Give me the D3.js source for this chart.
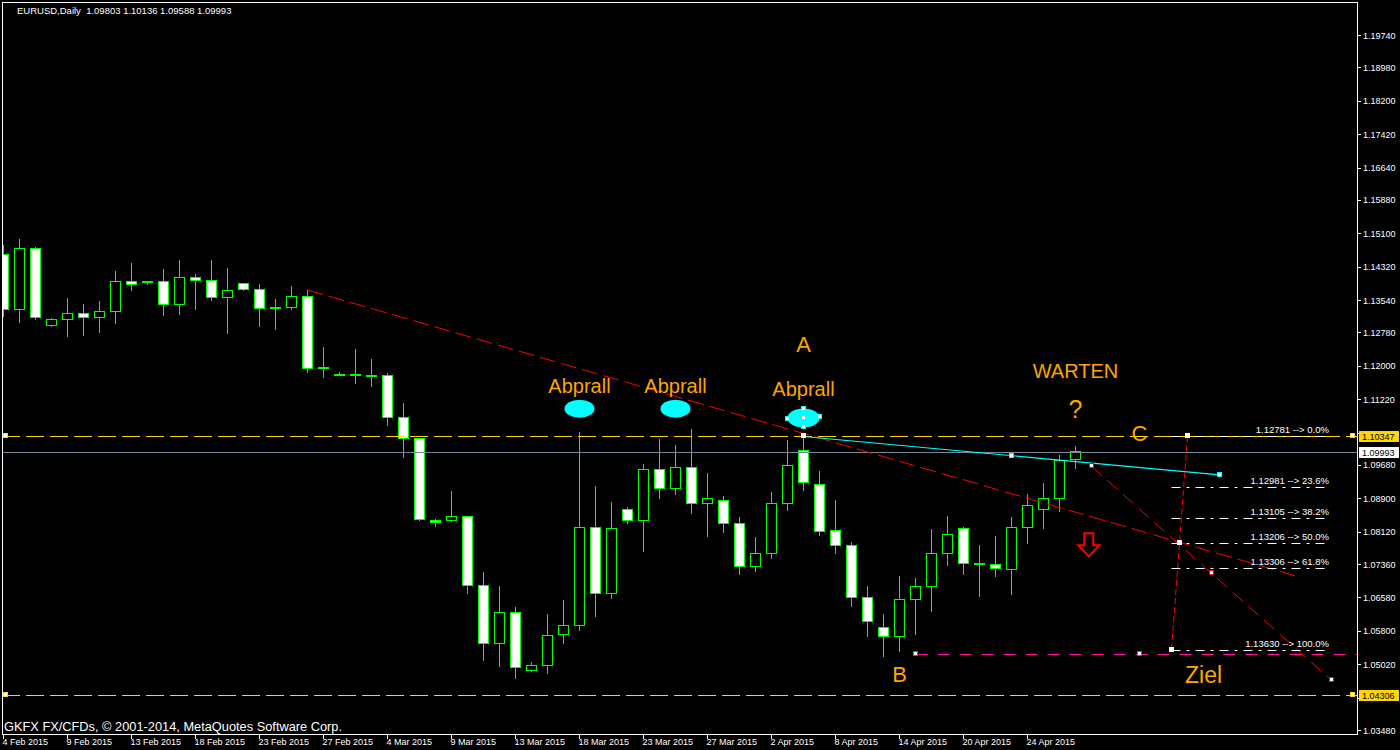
<!DOCTYPE html>
<html><head><meta charset="utf-8">
<script src="https://cdn.jsdelivr.net/npm/d3@7"></script>
<style>
html,body{margin:0;padding:0;background:#000;overflow:hidden;}
svg{display:block;}
text{font-family:"Liberation Sans",Arial,sans-serif;}
</style></head><body>
<svg id="chart" width="1400" height="750"></svg>
<script>
// ---------------- DATA ----------------
const dates = ["4 Feb","5 Feb","6 Feb","8 Feb","9 Feb","10 Feb","11 Feb","12 Feb","13 Feb","15 Feb","16 Feb","17 Feb","18 Feb","19 Feb","20 Feb","22 Feb","23 Feb","24 Feb","25 Feb","26 Feb","27 Feb","1 Mar","2 Mar","3 Mar","4 Mar","5 Mar","6 Mar","8 Mar","9 Mar","10 Mar","11 Mar","12 Mar","13 Mar","15 Mar","16 Mar","17 Mar","18 Mar","19 Mar","20 Mar","22 Mar","23 Mar","24 Mar","25 Mar","26 Mar","27 Mar","30 Mar","31 Mar","1 Apr","2 Apr","3 Apr","6 Apr","7 Apr","8 Apr","9 Apr","10 Apr","13 Apr","14 Apr","15 Apr","16 Apr","17 Apr","20 Apr","21 Apr","22 Apr","23 Apr","24 Apr","27 Apr","28 Apr","29 Apr"];
const opens = [1.14616,1.13323,1.14750,1.12948,1.13089,1.13229,1.13135,1.13276,1.13978,1.13975,1.13978,1.13430,1.14071,1.14001,1.13603,1.13931,1.13790,1.13360,1.13369,1.13627,1.11956,1.11802,1.11793,1.11778,1.11778,1.10796,1.10304,1.08386,1.08386,1.08480,1.06865,1.05508,1.06233,1.04877,1.04994,1.05719,1.05920,1.08222,1.06678,1.08643,1.08386,1.09579,1.09135,1.09626,1.08784,1.08854,1.08316,1.07300,1.07614,1.08784,1.10024,1.09228,1.08152,1.07801,1.06585,1.05883,1.05672,1.06538,1.06842,1.07614,1.08199,1.07364,1.07347,1.07240,1.08222,1.08643,1.08891,1.09803];
const highs = [1.14827,1.14967,1.14770,1.13119,1.13587,1.13447,1.13517,1.14219,1.14406,1.13985,1.14265,1.14476,1.14148,1.14476,1.14289,1.13935,1.13914,1.13564,1.13868,1.13774,1.12441,1.11849,1.12394,1.12160,1.11837,1.11137,1.10310,1.08417,1.09072,1.08485,1.07176,1.06849,1.06358,1.05071,1.06194,1.06521,1.10452,1.09188,1.08814,1.08697,1.09703,1.10281,1.10148,1.10522,1.09493,1.08955,1.08463,1.07995,1.09048,1.10265,1.10417,1.09539,1.08861,1.07878,1.06849,1.06194,1.07083,1.07036,1.08182,1.08487,1.08222,1.07808,1.08019,1.08463,1.09001,1.09259,1.09914,1.10136];
const lows = [1.13135,1.13009,1.13079,1.12915,1.12682,1.12698,1.12775,1.12979,1.13758,1.13898,1.13173,1.13196,1.13313,1.13524,1.12752,1.13758,1.12915,1.12845,1.13313,1.11821,1.11722,1.11762,1.11582,1.11512,1.10599,1.09851,1.08370,1.08222,1.08353,1.06669,1.05101,1.04947,1.04666,1.04844,1.04797,1.05499,1.05803,1.06131,1.06552,1.08306,1.07651,1.08891,1.08985,1.08540,1.08002,1.08096,1.07106,1.07183,1.07488,1.08611,1.09079,1.08019,1.07605,1.06365,1.05663,1.05195,1.05312,1.05710,1.06248,1.07324,1.07106,1.06598,1.07066,1.06645,1.07838,1.08189,1.08587,1.09588];
const closes = [1.13323,1.14750,1.13135,1.13089,1.13229,1.13135,1.13276,1.13978,1.13907,1.13980,1.13430,1.14071,1.13992,1.13603,1.13767,1.13790,1.13337,1.13362,1.13627,1.11942,1.11958,1.11804,1.11795,1.11780,1.10798,1.10304,1.08409,1.08339,1.08480,1.06865,1.05508,1.06233,1.04947,1.04994,1.05695,1.05929,1.08222,1.06678,1.08199,1.08386,1.09579,1.09135,1.09626,1.08784,1.08901,1.08316,1.07300,1.07614,1.08784,1.09673,1.09266,1.08129,1.07801,1.06585,1.06023,1.05672,1.06538,1.06842,1.07614,1.08058,1.07380,1.07366,1.07247,1.08222,1.08737,1.08901,1.09790,1.09993];

const priceTicks = [1.19740,1.18980,1.18200,1.17420,1.16640,1.15880,1.15100,1.14320,1.13540,1.12780,1.12000,1.11220,1.10440,1.09680,1.08900,1.08120,1.07360,1.06580,1.05800,1.05020,1.04240,1.03480];
const dateTickBars = [0,4,8,12,16,20,24,28,32,36,40,44,48,52,56,60,64];
const dateTickLabels = ["4 Feb 2015","9 Feb 2015","13 Feb 2015","18 Feb 2015","23 Feb 2015","27 Feb 2015","4 Mar 2015","9 Mar 2015","13 Mar 2015","18 Mar 2015","23 Mar 2015","27 Mar 2015","2 Apr 2015","8 Apr 2015","14 Apr 2015","20 Apr 2015","24 Apr 2015"];

const headerText = "EURUSD,Daily  1.09803 1.10136 1.09588 1.09993";
const copyrightText = "GKFX FX/CFDs, \u00a9 2001-2014, MetaQuotes Software Corp.";

const hLevels = [1.10347, 1.04306];
const bidPrice = 1.09993;

const labelTexts = ["Abprall","Abprall","Abprall","A","WARTEN","?","C","B","Ziel"];
const labelBars = [36, 42, 50, 50, 67, 67, 71, 56, 75];
const labelPrices = [1.11376, 1.11376, 1.11294, 1.12331, 1.11708, 1.10772, 1.10241, 1.04603, 1.04587];

const ellipseBars = [36, 42, 50];
const ellipsePrices = [1.10997, 1.10997, 1.10779];

const trend1Bars = [19, 81];
const trend1Prices = [1.13774, 1.07060];
const trend2Bars = [68, 83];
const trend2Prices = [1.09650, 1.04642];
const cyanBars = [50, 76];
const cyanPrices = [1.10347, 1.09450];
const pinkBars = [57, 71];
const pinkPrice = 1.05251;

const fibBars = [74, 73];
const fibPrices = [1.10347, 1.05351];
const fibLevels = [0, 0.236, 0.382, 0.5, 0.618, 1];
const fibTexts = ["1.12781 --> 0.0%","1.12981 --> 23.6%","1.13105 --> 38.2%","1.13206 --> 50.0%","1.13306 --> 61.8%","1.13630 --> 100.0%"];
const fibEndBar = 82.9;

const arrowBar = 67.83;
const arrowPrice = 1.08081;

// ---------------- DRAW ----------------
const W = 1400, H = 750;
const P = {left: 2, top: 2, right: 1357, bottom: 734};
const x = d3.scaleLinear().domain([0, 1]).range([3.5, 19.5]);
const y = d3.scaleLinear().domain([1.03480, 1.19740]).range([730, 35]);

const GREEN = "#00ff00", GOLD = "#ffd700", ORANGE = "#ffa500", CYAN = "#00ffff", RED = "#ff0000", PINK = "#ff1493", BIDGRAY = "#778899";

const svg = d3.select("#chart");
svg.append("rect").attr("width", W).attr("height", H).attr("fill", "#000");
svg.append("defs").append("clipPath").attr("id", "clip")
  .append("rect").attr("x", P.left + 1).attr("y", P.top + 1)
  .attr("width", P.right - P.left - 1).attr("height", P.bottom - P.top - 1);

const g = svg.append("g").attr("clip-path", "url(#clip)");

// candles
const bars = d3.range(opens.length).map(i => ({i, o: opens[i], h: highs[i], l: lows[i], c: closes[i], d: dates[i]}));
const cg = g.append("g").attr("shape-rendering", "crispEdges");
cg.selectAll("line.wick").data(bars).join("line").attr("class", "wick")
  .attr("x1", d => x(d.i)).attr("x2", d => x(d.i))
  .attr("y1", d => y(d.h)).attr("y2", d => y(d.l))
  .attr("stroke", GREEN).attr("stroke-width", 1);
cg.selectAll("rect.body").data(bars).join("rect").attr("class", "body")
  .attr("x", d => x(d.i) - 5).attr("width", 10)
  .attr("y", d => y(Math.max(d.o, d.c)))
  .attr("height", d => Math.max(1, Math.abs(y(d.o) - y(d.c))))
  .attr("fill", d => d.c >= d.o ? "#000" : "#fff")
  .attr("stroke", GREEN).attr("stroke-width", 1);

// horizontal yellow lines
g.selectAll("line.hl").data(hLevels).join("line").attr("class", "hl")
  .attr("x1", P.left).attr("x2", P.right)
  .attr("y1", d => Math.round(y(d)) + 0.5).attr("y2", d => Math.round(y(d)) + 0.5)
  .attr("stroke", GOLD).attr("stroke-width", 1).attr("stroke-dasharray", "18,6");

// bid line
g.append("line").attr("x1", P.left).attr("x2", P.right)
  .attr("y1", Math.round(y(bidPrice)) + 0.5).attr("y2", Math.round(y(bidPrice)) + 0.5)
  .attr("stroke", BIDGRAY).attr("stroke-width", 1);

// pink ray
g.append("line").attr("x1", x(pinkBars[0])).attr("x2", P.right)
  .attr("y1", Math.round(y(pinkPrice)) + 0.5).attr("y2", Math.round(y(pinkPrice)) + 0.5)
  .attr("stroke", PINK).attr("stroke-width", 1).attr("stroke-dasharray", "12,10");

// red trendlines
g.append("line").attr("x1", x(trend1Bars[0])).attr("y1", y(trend1Prices[0]))
  .attr("x2", x(trend1Bars[1])).attr("y2", y(trend1Prices[1]))
  .attr("stroke", RED).attr("stroke-width", 1).attr("stroke-dasharray", "16,6");
g.append("line").attr("x1", x(trend2Bars[0])).attr("y1", y(trend2Prices[0]))
  .attr("x2", x(trend2Bars[1])).attr("y2", y(trend2Prices[1]))
  .attr("stroke", RED).attr("stroke-width", 1).attr("stroke-dasharray", "14,7");

// cyan line
g.append("line").attr("x1", x(cyanBars[0])).attr("y1", y(cyanPrices[0]))
  .attr("x2", x(cyanBars[1])).attr("y2", y(cyanPrices[1]))
  .attr("stroke", CYAN).attr("stroke-width", 1.2);

// fibonacci
const fibP = l => fibPrices[0] + (fibPrices[1] - fibPrices[0]) * l;
const fibLeft = Math.min(x(fibBars[0]), x(fibBars[1]));
g.selectAll("line.fib").data(fibLevels).join("line").attr("class", "fib")
  .attr("x1", fibLeft).attr("x2", x(fibEndBar))
  .attr("y1", d => Math.round(y(fibP(d))) + 0.5).attr("y2", d => Math.round(y(fibP(d))) + 0.5)
  .attr("stroke", "#fff").attr("stroke-width", 1).attr("stroke-dasharray", "9,6,3,6");
g.selectAll("text.fib").data(fibLevels).join("text").attr("class", "fib")
  .attr("x", x(fibEndBar) - 1).attr("y", d => y(fibP(d)) - 3)
  .attr("text-anchor", "end").attr("fill", "#fff").attr("font-size", "9.5px")
  .text((d, i) => fibTexts[i]);
g.append("line").attr("x1", x(fibBars[0])).attr("y1", y(fibPrices[0]))
  .attr("x2", x(fibBars[1])).attr("y2", y(fibPrices[1]))
  .attr("stroke", RED).attr("stroke-width", 1).attr("stroke-dasharray", "6,3");

// ellipses
g.selectAll("ellipse.e").data(ellipseBars).join("ellipse").attr("class", "e")
  .attr("cx", d => x(d)).attr("cy", (d, i) => y(ellipsePrices[i]))
  .attr("rx", (d, i) => i === 2 ? 16 : 15).attr("ry", (d, i) => i === 2 ? 9.5 : 9)
  .attr("fill", CYAN);

// labels
const fontSizes = {"Abprall": 20, "A": 22, "WARTEN": 20, "?": 25, "C": 22, "B": 22, "Ziel": 23};
g.selectAll("text.lab").data(labelTexts).join("text").attr("class", "lab")
  .attr("x", (d, i) => x(labelBars[i])).attr("y", (d, i) => y(labelPrices[i]))
  .attr("text-anchor", "middle").attr("fill", ORANGE)
  .attr("font-size", d => fontSizes[d] + "px")
  .text(d => d);

// arrow
const ax = x(arrowBar), ay = y(arrowPrice);
g.append("path")
  .attr("d", `M${ax-4.5},${ay} L${ax+4.5},${ay} L${ax+4.5},${ay+12} L${ax+10.5},${ay+12} L${ax},${ay+23} L${ax-10.5},${ay+12} L${ax-4.5},${ay+12} Z`)
  .attr("fill", "none").attr("stroke", RED).attr("stroke-width", 2);

// markers
function marker(cx, cy, col) {
  g.append("rect").attr("x", Math.round(cx) - 2.5).attr("y", Math.round(cy) - 2.5)
    .attr("width", 4).attr("height", 4).attr("fill", "#fff").attr("stroke", col).attr("stroke-width", 1)
    .attr("shape-rendering", "crispEdges");
}
hLevels.forEach(p => { marker(P.left + 4, y(p), GOLD); marker(P.right - 4, y(p), GOLD); });
marker(x((cyanBars[0] + cyanBars[1]) / 2), y((cyanPrices[0] + cyanPrices[1]) / 2), CYAN);
marker(x(cyanBars[1]), y(cyanPrices[1]), CYAN);
marker(x(cyanBars[0]), y(cyanPrices[0]), "#fff");
marker(x(trend2Bars[0]), y(trend2Prices[0]), RED);
marker(x((trend2Bars[0] + trend2Bars[1]) / 2), y((trend2Prices[0] + trend2Prices[1]) / 2), RED);
marker(x(trend2Bars[1]), y(trend2Prices[1]), RED);
marker(x(pinkBars[0]), y(pinkPrice), PINK);
marker(x(pinkBars[1]), y(pinkPrice), PINK);
marker(x(fibBars[0]), y(fibPrices[0]), "#fff");
marker(x(fibBars[1]), y(fibPrices[1]), "#fff");
marker(x((fibBars[0] + fibBars[1]) / 2), y((fibPrices[0] + fibPrices[1]) / 2), "#fff");
{
  const ex = x(ellipseBars[2]), ey = y(ellipsePrices[2]);
  [[0,0],[0,-9],[0,9],[-16,1],[16,-1]].forEach(o => marker(ex + o[0], ey + o[1], CYAN));
}

// header & copyright
svg.append("text").attr("x", 17).attr("y", 14).attr("fill", "#fff").attr("font-size", "9.5px")
  .style("white-space", "pre").text(headerText);
svg.append("text").attr("x", 4).attr("y", 731).attr("fill", "#fff").attr("font-size", "12.8px")
  .text(copyrightText);

// frame
svg.append("rect").attr("x", P.left + 0.5).attr("y", P.top + 0.5)
  .attr("width", P.right - P.left).attr("height", P.bottom - P.top)
  .attr("fill", "none").attr("stroke", "#fff").attr("stroke-width", 1).attr("shape-rendering", "crispEdges");

// price axis (labels hidden under a price box are skipped, as in the terminal)
const boxes = [{p: hLevels[0], bg: GOLD}, {p: bidPrice, bg: "#fff"}, {p: hLevels[1], bg: GOLD}];
const visibleTicks = priceTicks.filter(t => boxes.every(b => Math.abs(y(t) - y(b.p)) > 8));
const pa = svg.append("g");
pa.selectAll("line").data(priceTicks).join("line")
  .attr("x1", P.right + 1).attr("x2", P.right + 4)
  .attr("y1", d => Math.round(y(d)) + 0.5).attr("y2", d => Math.round(y(d)) + 0.5)
  .attr("stroke", "#fff").attr("shape-rendering", "crispEdges");
pa.selectAll("text").data(visibleTicks).join("text")
  .attr("x", 1363).attr("y", d => y(d) + 3.5)
  .attr("fill", "#fff").attr("font-size", "9px")
  .text(d => d.toFixed(5));

// price boxes
boxes.forEach(b => {
  const cy = Math.round(y(b.p));
  svg.append("rect").attr("x", 1359).attr("y", cy - 5).attr("width", 40).attr("height", 11)
    .attr("fill", b.bg).attr("shape-rendering", "crispEdges");
  svg.append("text").attr("x", 1362).attr("y", cy + 4).attr("fill", "#000").attr("font-size", "9px")
    .text(b.p.toFixed(5));
});

// date axis
const da = svg.append("g");
da.selectAll("line").data(dateTickBars).join("line")
  .attr("x1", d => x(d)).attr("x2", d => x(d))
  .attr("y1", P.bottom + 1).attr("y2", P.bottom + 5)
  .attr("stroke", "#fff").attr("shape-rendering", "crispEdges");
da.selectAll("text").data(dateTickBars).join("text")
  .attr("x", d => x(d) - 1).attr("y", 745)
  .attr("fill", "#fff").attr("font-size", "9px")
  .text((d, i) => dateTickLabels[i]);
</script>
</body></html>
